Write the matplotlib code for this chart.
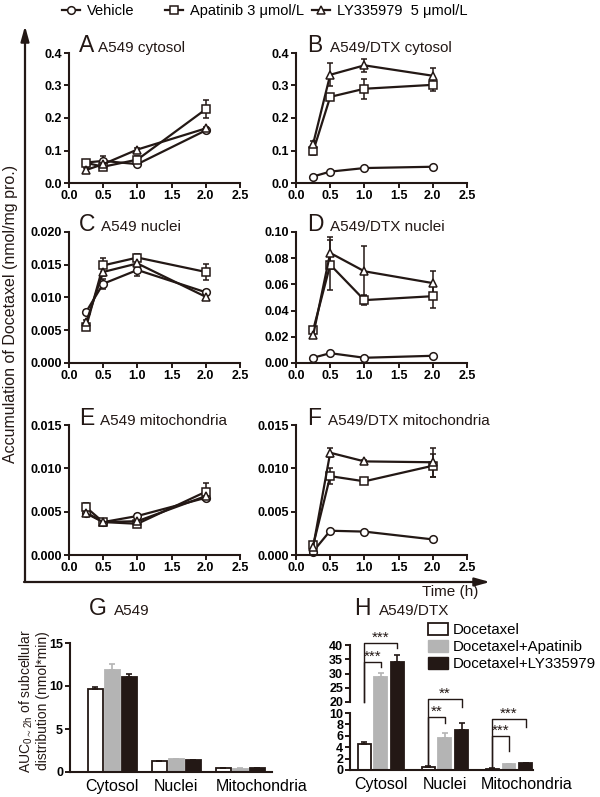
import numpy as np
import matplotlib.pyplot as plt
from matplotlib.ticker import FormatStrFormatter
from matplotlib.lines import Line2D
from matplotlib.patches import Patch

plt.rcParams['font.family'] = ['Liberation Sans', 'DejaVu Sans']
plt.rcParams['mathtext.default'] = 'regular'

# time course data: rows = vehicle, apatinib, LY335979
time_h = [0.25, 0.5, 1.0, 2.0]
series_names = ['Vehicle', 'Apatinib 3 μmol/L', 'LY335979  5 μmol/L']

a_mean = [[0.063, 0.068, 0.058, 0.162], [0.062, 0.050, 0.072, 0.227], [0.040, 0.058, 0.103, 0.168]]
a_err = [[0.005, 0.015, 0.005, 0.005], [0.008, 0.010, 0.010, 0.027], [0.005, 0.005, 0.005, 0.005]]
b_mean = [[0.020, 0.035, 0.046, 0.050], [0.097, 0.265, 0.290, 0.302], [0.120, 0.333, 0.362, 0.330]]
b_err = [[0.003, 0.003, 0.003, 0.003], [0.010, 0.010, 0.030, 0.018], [0.010, 0.035, 0.020, 0.025]]
c_mean = [[0.0078, 0.0121, 0.0142, 0.0108], [0.0055, 0.0149, 0.0161, 0.0139], [0.0062, 0.0139, 0.0152, 0.0101]]
c_err = [[0.0003, 0.0008, 0.0009, 0.0004], [0.0004, 0.0012, 0.0005, 0.0012], [0.0004, 0.0006, 0.0005, 0.0004]]
d_mean = [[0.004, 0.0075, 0.004, 0.0055], [0.025, 0.075, 0.048, 0.051], [0.021, 0.084, 0.070, 0.061]]
d_err = [[0.0005, 0.001, 0.0005, 0.0005], [0.002, 0.019, 0.004, 0.009], [0.002, 0.012, 0.019, 0.009]]
e_mean = [[0.0049, 0.0038, 0.0045, 0.0066], [0.0055, 0.0038, 0.0036, 0.0073], [0.0048, 0.0038, 0.0039, 0.0068]]
e_err = [[0.0003, 0.0002, 0.0002, 0.0003], [0.0005, 0.0002, 0.0003, 0.0010], [0.0003, 0.0002, 0.0002, 0.0003]]
f_mean = [[0.0004, 0.0028, 0.0027, 0.0018], [0.0011, 0.0091, 0.0085, 0.0103], [0.0009, 0.0118, 0.0108, 0.0107]]
f_err = [[0.0001, 0.0001, 0.0001, 0.0001], [0.0003, 0.0009, 0.0002, 0.0013], [0.0002, 0.0005, 0.0002, 0.0017]]

# AUC bars: rows = docetaxel, +apatinib, +LY335979 ; columns = compartments
compartments = ['Cytosol', 'Nuclei', 'Mitochondria']
bar_names = ['Docetaxel', 'Docetaxel+Apatinib', 'Docetaxel+LY335979']
g_auc = [[9.6, 1.24, 0.46], [11.9, 1.5, 0.4], [11.0, 1.36, 0.45]]
g_err = [[0.25, 0.05, 0.03], [0.65, 0.06, 0.03], [0.45, 0.05, 0.03]]
h_auc = [[4.6, 0.6, 0.25], [28.8, 5.7, 1.0], [34.2, 7.1, 1.17]]
h_err = [[0.4, 0.1, 0.03], [1.5, 0.8, 0.05], [2.2, 1.1, 0.05]]

# significance brackets in H: compartment, to-series, bracket y, left leg end, right leg end, label
sig_group = [0, 0, 1, 1, 2, 2]
sig_to = [1, 2, 1, 2, 1, 2]
sig_y = [34.1, 40.8, 9.35, 21.0, 5.96, 8.95]
sig_left = [20, 20, 0.9, 0.9, 0.58, 0.58]
sig_right = [32.4, 38.9, 8.25, 15.5, 3.39, 7.6]
sig_text = ['***', '***', '**', '**', '***', '***']

ink = '#231815'
grey = '#b4b4b4'
W, H = 600, 797


def rect(l, t, r, b):
    return [l / W, 1 - b / H, (r - l) / W, (b - t) / H]


def fx(x):
    return x / W


def fy(y):
    return 1 - y / H


def style_axes(ax):
    for s in ['top', 'right']:
        ax.spines[s].set_visible(False)
    for s in ['left', 'bottom']:
        ax.spines[s].set_linewidth(1.5)
        ax.spines[s].set_color(ink)
    ax.tick_params(direction='out', length=3.5, width=1.4, color=ink, labelsize=9, pad=1.5)
    for lab in ax.get_xticklabels() + ax.get_yticklabels():
        lab.set_fontweight('bold')


fig = plt.figure(figsize=(6, 7.97), dpi=100)

markers = ['o', 's', '^']


def line_panel(box, means, errs, ymax, ystep, fmt, letter, name, lx, nx, ty):
    ax = fig.add_axes(rect(*box))
    for m, e, mk in zip(means, errs, markers):
        ax.errorbar(time_h, m, yerr=e, marker=mk, ms=5.5, mfc='white', mec=ink, mew=1.1,
                    color=ink, lw=1.6, capsize=2.5, elinewidth=1.1, capthick=1.1, clip_on=False)
    ax.set_xlim(0, 2.5)
    ax.set_ylim(0, ymax)
    ax.set_xticks(np.arange(0, 2.51, 0.5))
    ax.set_yticks(np.arange(0, ymax + ystep / 2, ystep))
    ax.xaxis.set_major_formatter(FormatStrFormatter('%.1f'))
    ax.yaxis.set_major_formatter(FormatStrFormatter(fmt))
    style_axes(ax)
    fig.text(fx(lx), fy(ty), letter, fontsize=16.5, va='baseline', color=ink)
    fig.text(fx(nx), fy(ty), name, fontsize=11, va='baseline', color=ink)
    return ax


line_panel((69, 53, 240, 183), a_mean, a_err, 0.4, 0.1, '%.1f', 'A', 'A549 cytosol', 79, 98, 52)
line_panel((296, 53, 467, 183), b_mean, b_err, 0.4, 0.1, '%.1f', 'B', 'A549/DTX cytosol', 307, 330, 52)
line_panel((69, 232, 240, 363), c_mean, c_err, 0.02, 0.005, '%.3f', 'C', 'A549 nuclei', 79, 101, 231)
line_panel((296, 232, 467, 363), d_mean, d_err, 0.10, 0.02, '%.2f', 'D', 'A549/DTX nuclei', 307, 330, 231)
line_panel((69, 425, 240, 555), e_mean, e_err, 0.015, 0.005, '%.3f', 'E', 'A549 mitochondria', 79, 100, 425)
line_panel((296, 425, 467, 555), f_mean, f_err, 0.015, 0.005, '%.3f', 'F', 'A549/DTX mitochondria', 307, 328, 425)

# legend on top
legend_x = [62, 165, 312]
for name, mk, lx in zip(series_names, markers, legend_x):
    h = Line2D([], [], color=ink, lw=1.6, marker=mk, ms=5.5, mfc='white', mec=ink, mew=1.1)
    fig.legend([h], [name], loc='center left', bbox_to_anchor=(fx(lx), fy(11)), frameon=False,
               fontsize=10.5, handlelength=1.2, handletextpad=0.5, borderpad=0, borderaxespad=0)

# big axis arrows
ax0 = fig.add_axes([0, 0, 1, 1], zorder=-1)
ax0.axis('off')
arrow = dict(arrowstyle='-|>,head_length=0.9,head_width=0.25', color=ink, lw=1.6, shrinkA=0, shrinkB=0)
ax0.annotate('', xy=(fx(25), fy(26)), xytext=(fx(25), fy(582)), xycoords='figure fraction', arrowprops=arrow)
ax0.annotate('', xy=(fx(490), fy(582)), xytext=(fx(24), fy(582)), xycoords='figure fraction', arrowprops=arrow)
fig.text(fx(450), fy(592), 'Time (h)', ha='center', va='center', fontsize=11, color=ink)
fig.text(fx(11), fy(314), 'Accumulation of Docetaxel (nmol/mg pro.)', rotation=90,
         ha='center', va='center', fontsize=11.5, color=ink)

bar_face = ['white', grey, ink]
bar_edge = [ink, grey, ink]
x = np.arange(len(compartments))

# G
ax_g = fig.add_axes(rect(70, 643, 272, 772))
g_offs = [-0.266, 0, 0.266]
for vals, errs, fc, ec, off in zip(g_auc, g_err, bar_face, bar_edge, g_offs):
    ax_g.bar(x + off, vals, 0.234, color=fc, edgecolor=ec, lw=1.3,
             yerr=[np.zeros(len(vals)), errs],
             error_kw=dict(ecolor=ec, capsize=2.5, elinewidth=1.2, capthick=1.2))
ax_g.set_xlim(-0.66, 2.5)
ax_g.set_ylim(0, 15)
ax_g.set_yticks([0, 5, 10, 15])
ax_g.set_xticks([0, 1, 2.33])
ax_g.set_xticklabels(compartments)
style_axes(ax_g)
ax_g.tick_params(axis='x', length=0, labelsize=11.5, pad=5)
for lab in ax_g.get_xticklabels():
    lab.set_fontweight('normal')
ax_g.set_ylabel('AUC$_{0\\sim2h}$ of subcellular\ndistribution (nmol*min)', fontsize=10, color=ink,
                linespacing=1.1)
ax_g.yaxis.set_label_coords(-0.1, 0.55)
fig.text(fx(89), fy(615), 'G', fontsize=16.5, va='baseline', color=ink)
fig.text(fx(114), fy(615), 'A549', fontsize=11, va='baseline', color=ink)

# H with broken axis
brk_y = [0, 10, 20, 40]
brk_px = [0, 57, 68, 125]


def fwd(v):
    v = np.asarray(v, float)
    out = np.interp(v, brk_y, brk_px)
    out = np.where(v > 40, 125 + (v - 40) * 2.85, out)
    return np.where(v < 0, v * 5.7, out)


def inv(p):
    p = np.asarray(p, float)
    out = np.interp(p, brk_px, brk_y)
    out = np.where(p > 125, 40 + (p - 125) / 2.85, out)
    return np.where(p < 0, p / 5.7, out)


ax_h = fig.add_axes(rect(350, 645, 533, 770))
ax_h.set_yscale('function', functions=(fwd, inv))
h_offs = [-0.26, 0, 0.26]
for vals, errs, fc, ec, off in zip(h_auc, h_err, bar_face, bar_edge, h_offs):
    ax_h.bar(x + off, vals, 0.2, color=fc, edgecolor=ec, lw=1.3,
             yerr=[np.zeros(len(vals)), errs],
             error_kw=dict(ecolor=ec, capsize=2.5, elinewidth=1.2, capthick=1.2))
ax_h.set_xlim(-0.48, 2.375)
ax_h.set_ylim(0, 40)
ax_h.set_yticks([0, 2, 4, 6, 8, 10, 20, 25, 30, 35, 40])
ax_h.yaxis.set_major_formatter(FormatStrFormatter('%d'))
ax_h.yaxis.set_minor_locator(plt.NullLocator())
ax_h.set_xticks([0, 1, 2.28])
ax_h.set_xticklabels(compartments)
style_axes(ax_h)
ax_h.spines['left'].set_visible(False)
ax_h.plot([0, 0], [0, 10], transform=ax_h.get_yaxis_transform(), color=ink, lw=1.5, clip_on=False)
ax_h.plot([0, 0], [20, 40], transform=ax_h.get_yaxis_transform(), color=ink, lw=1.5, clip_on=False)
ax_h.tick_params(axis='x', length=0, labelsize=11.5, pad=5)
for lab in ax_h.get_xticklabels():
    lab.set_fontweight('normal')

for g, t, y, yl, yr, s in zip(sig_group, sig_to, sig_y, sig_left, sig_right, sig_text):
    x1 = g + h_offs[0]
    x2 = g + h_offs[t]
    ax_h.plot([x1, x1, x2, x2], [yl, y, y, yr], color=ink, lw=1.0, clip_on=False)
    ax_h.annotate(s, xy=((x1 + x2) / 2, y), xytext=(0, 1), textcoords='offset points',
                  ha='center', va='baseline', fontsize=11, color=ink, annotation_clip=False)

ax_h.legend([Patch(fc='white', ec=ink, lw=1.3), Patch(fc=grey, ec=grey), Patch(fc=ink, ec=ink)],
            bar_names, loc='upper left', bbox_to_anchor=(fx(428), fy(623)), bbox_transform=fig.transFigure,
            frameon=False, fontsize=10.8, handlelength=1.3, handleheight=0.8, handletextpad=0.35,
            labelspacing=0.2, borderpad=0, borderaxespad=0)
fig.text(fx(354), fy(615), 'H', fontsize=16.5, va='baseline', color=ink)
fig.text(fx(379), fy(615), 'A549/DTX', fontsize=11, va='baseline', color=ink)

fig.savefig('out.png', dpi=100)
